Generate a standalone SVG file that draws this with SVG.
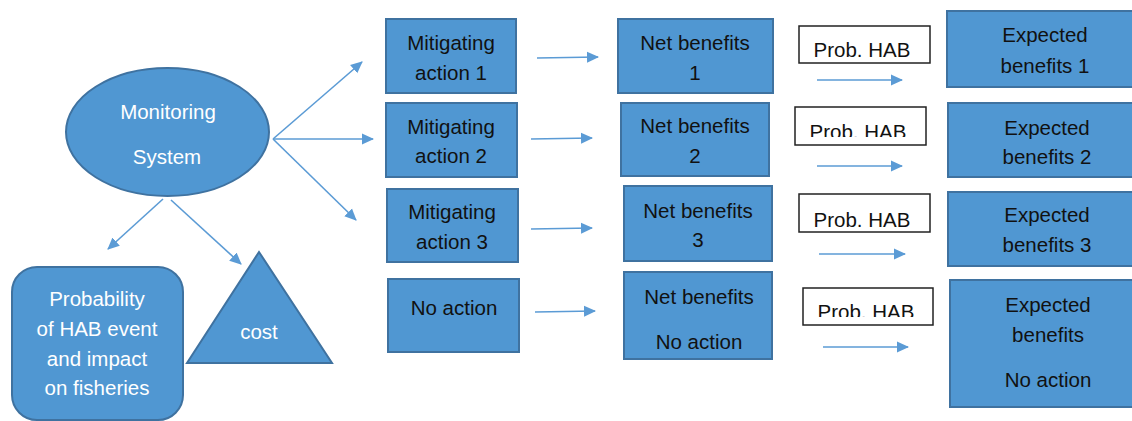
<svg xmlns="http://www.w3.org/2000/svg" width="1132" height="421" viewBox="0 0 1132 421">
<style>
.n{fill:#5097d2;stroke:#3f72a0;stroke-width:2}
.w{fill:#ffffff;font-family:"Liberation Sans",Arial,sans-serif;font-size:20.5px;text-anchor:middle}
.d{fill:#111111;font-family:"Liberation Sans",Arial,sans-serif;font-size:20.5px;text-anchor:middle}
.p{fill:#ffffff;stroke:#222222;stroke-width:1.5}
.c{stroke:#5b9bd5;stroke-width:1.6;fill:none;marker-end:url(#ah)}
</style>
<defs>
<marker id="ah" markerWidth="12" markerHeight="12" refX="11" refY="6" orient="auto" markerUnits="userSpaceOnUse"><path d="M0,0.5 L12,6 L0,11.5 Z" fill="#5b9bd5"/></marker>
<clipPath id="cp2"><rect x="795" y="107" width="131" height="30"/></clipPath>
<clipPath id="cp4"><rect x="803" y="288" width="130" height="29"/></clipPath>
</defs>
<rect width="1132" height="421" fill="#ffffff"/>
<g id="connectors">
<line class="c" x1="273" y1="139" x2="362" y2="62"/>
<line class="c" x1="273" y1="139" x2="373" y2="139"/>
<line class="c" x1="273" y1="139" x2="356" y2="220"/>
<line class="c" x1="163" y1="199" x2="108" y2="249"/>
<line class="c" x1="171" y1="200" x2="241" y2="264"/>
<line class="c" x1="537" y1="58" x2="598" y2="57"/>
<line class="c" x1="531" y1="139" x2="592" y2="138"/>
<line class="c" x1="531" y1="229" x2="592" y2="228"/>
<line class="c" x1="535" y1="312" x2="595" y2="311"/>
<line class="c" x1="817" y1="80" x2="902" y2="80"/>
<line class="c" x1="817" y1="166" x2="902" y2="166"/>
<line class="c" x1="819" y1="254" x2="905" y2="254"/>
<line class="c" x1="823" y1="347" x2="908" y2="347"/>
</g>
<g id="monitoring">
<ellipse class="n" cx="167.5" cy="132" rx="101.5" ry="64"/>
<text class="w" x="168" y="119">Monitoring</text>
<text class="w" x="167" y="164">System</text>
</g>
<g id="probability">
<rect class="n" x="12" y="267" width="171" height="153" rx="25"/>
<text class="w" x="97" y="306">Probability</text>
<text class="w" x="97" y="336">of HAB event</text>
<text class="w" x="97" y="366">and impact</text>
<text class="w" x="97" y="395">on fisheries</text>
</g>
<g id="cost">
<polygon class="n" points="259,252 187,363 332,363"/>
<text class="w" x="259" y="339">cost</text>
</g>
<g id="mit1">
<rect class="n" x="386" y="19" width="130" height="74"/>
<text class="d" x="451" y="50">Mitigating</text>
<text class="d" x="451" y="80">action 1</text>
</g>
<g id="mit2">
<rect class="n" x="386" y="103" width="131" height="74"/>
<text class="d" x="451" y="134">Mitigating</text>
<text class="d" x="451" y="163">action 2</text>
</g>
<g id="mit3">
<rect class="n" x="387" y="189" width="131" height="73"/>
<text class="d" x="452" y="219">Mitigating</text>
<text class="d" x="452" y="249">action 3</text>
</g>
<g id="noaction">
<rect class="n" x="388" y="279" width="131" height="73"/>
<text class="d" x="454" y="315">No action</text>
</g>
<g id="net1">
<rect class="n" x="618" y="19" width="155" height="74"/>
<text class="d" x="695" y="50">Net benefits</text>
<text class="d" x="695" y="80">1</text>
</g>
<g id="net2">
<rect class="n" x="621" y="103" width="148" height="73"/>
<text class="d" x="695" y="133">Net benefits</text>
<text class="d" x="695" y="163">2</text>
</g>
<g id="net3">
<rect class="n" x="624" y="186" width="148" height="75"/>
<text class="d" x="698" y="218">Net benefits</text>
<text class="d" x="698" y="247">3</text>
</g>
<g id="net4">
<rect class="n" x="624" y="272" width="148" height="87"/>
<text class="d" x="699" y="304">Net benefits</text>
<text class="d" x="699" y="349">No action</text>
</g>
<g id="prob1">
<rect class="p" x="799" y="26" width="131" height="37"/>
<text class="d" x="862" y="57">Prob. HAB</text>
</g>
<g id="prob2">
<rect class="p" x="795" y="107" width="131" height="38"/>
<text class="d" x="858" y="139" clip-path="url(#cp2)">Prob. HAB</text>
</g>
<g id="prob3">
<rect class="p" x="799" y="194" width="131" height="38"/>
<text class="d" x="862" y="227">Prob. HAB</text>
</g>
<g id="prob4">
<rect class="p" x="803" y="288" width="130" height="37"/>
<text class="d" x="866" y="319" clip-path="url(#cp4)">Prob. HAB</text>
</g>
<g id="exp1">
<rect class="n" x="947" y="11" width="200" height="76"/>
<text class="d" x="1045" y="42">Expected</text>
<text class="d" x="1045" y="73">benefits 1</text>
</g>
<g id="exp2">
<rect class="n" x="948" y="103" width="200" height="74"/>
<text class="d" x="1047" y="135">Expected</text>
<text class="d" x="1047" y="164">benefits 2</text>
</g>
<g id="exp3">
<rect class="n" x="948" y="192" width="200" height="74"/>
<text class="d" x="1047" y="222">Expected</text>
<text class="d" x="1047" y="252">benefits 3</text>
</g>
<g id="exp4">
<rect class="n" x="950" y="280" width="200" height="127"/>
<text class="d" x="1048" y="312">Expected</text>
<text class="d" x="1048" y="342">benefits</text>
<text class="d" x="1048" y="387">No action</text>
</g>
</svg>
